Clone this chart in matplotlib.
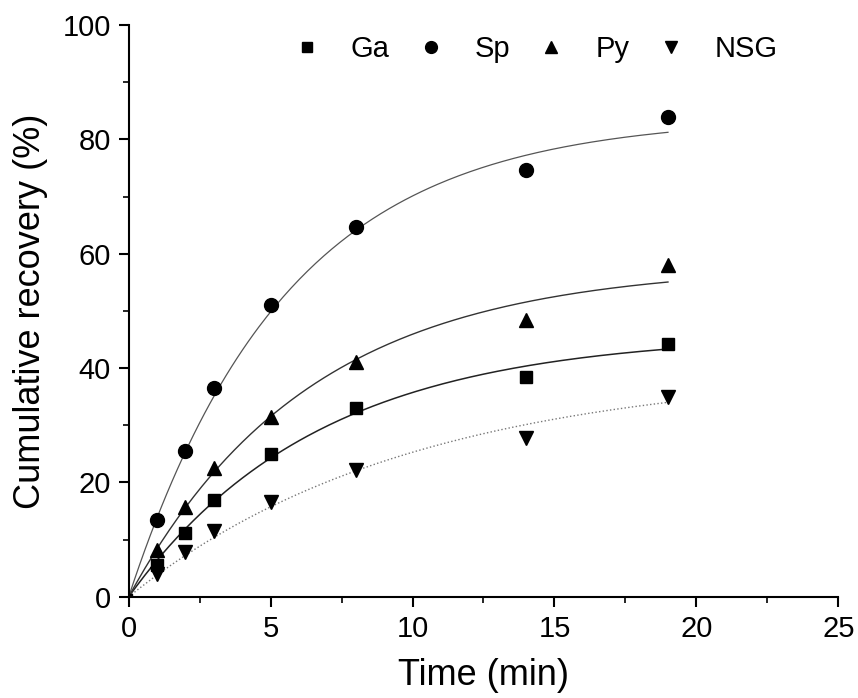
import numpy as np
import matplotlib.pyplot as plt
from matplotlib.ticker import MultipleLocator

plt.rcParams['font.family'] = ['Liberation Sans', 'DejaVu Sans']

time = [1, 2, 3, 5, 8, 14, 19]
ga = [5.5, 11.2, 17.0, 25.0, 33.0, 38.5, 44.2]
sp = [13.5, 25.5, 36.5, 51.0, 64.7, 74.7, 84.0]
py = [8.2, 15.7, 22.5, 31.5, 41.0, 48.5, 58.0]
nsg = [4.0, 7.8, 11.5, 16.5, 22.2, 27.8, 35.0]

# first-order fit parameters: R = Rmax * (1 - exp(-k t))
fit_rmax = {'Ga': 46.0, 'Sp': 84.0, 'Py': 58.0, 'NSG': 40.0}
fit_k = {'Ga': 0.15, 'Sp': 0.18, 'Py': 0.157, 'NSG': 0.10}

fig = plt.figure(figsize=(8.58, 6.98), dpi=100)
ax = fig.add_axes([0.150, 0.145, 0.827, 0.819])

t = np.linspace(0, 19, 200)
styles = {'Ga': ('-', '#222222', 1.1), 'Sp': ('-', '#555555', 0.9),
          'Py': ('-', '#333333', 1.0), 'NSG': (':', '#777777', 1.0)}
for name in ['Ga', 'Sp', 'Py', 'NSG']:
    ls, c, lw = styles[name]
    ax.plot(t, fit_rmax[name] * (1 - np.exp(-fit_k[name] * t)), ls=ls, color=c, lw=lw, zorder=1)

ax.plot(time, ga, 's', color='black', ms=9, label='Ga', zorder=3)
ax.plot(time, sp, 'o', color='black', ms=10, label='Sp', zorder=3)
ax.plot(time, py, '^', color='black', ms=10.5, label='Py', zorder=3)
ax.plot(time, nsg, 'v', color='black', ms=10.5, label='NSG', zorder=3)
ax.plot([0], [0], 's', color='black', ms=4, zorder=3)

ax.set_xlim(0, 25)
ax.set_ylim(0, 100)
ax.xaxis.set_major_locator(MultipleLocator(5))
ax.xaxis.set_minor_locator(MultipleLocator(2.5))
ax.yaxis.set_major_locator(MultipleLocator(20))
ax.yaxis.set_minor_locator(MultipleLocator(10))
ax.spines['top'].set_visible(False)
ax.spines['right'].set_visible(False)
for s in ['left', 'bottom']:
    ax.spines[s].set_linewidth(1.5)
ax.tick_params(which='major', direction='out', length=7, width=1.5, labelsize=21, pad=6)
ax.tick_params(which='minor', direction='out', length=4.5, width=1.2)

ax.set_xlabel('Time (min)', fontsize=26, labelpad=11)
ax.set_ylabel('Cumulative recovery (%)', fontsize=26, labelpad=10)

ax.legend(loc='upper right', bbox_to_anchor=(0.915, 0.983), ncol=4, frameon=False, fontsize=21,
          handletextpad=1.12, columnspacing=1.0, handlelength=0.8, markerscale=0.85,
          borderpad=0, borderaxespad=0)

fig.savefig('out.png', dpi=100)
